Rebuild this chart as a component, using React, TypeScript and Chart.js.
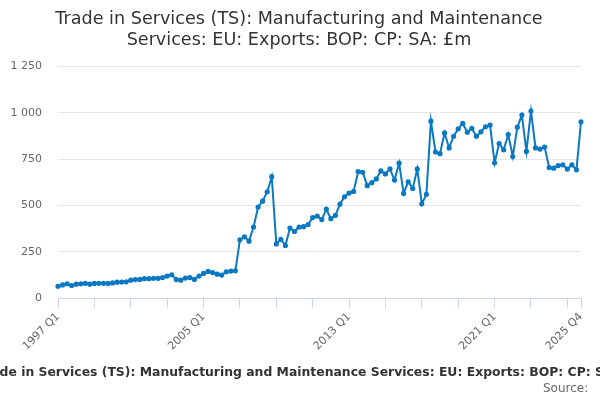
import { useRef, useEffect } from 'react';
import { Chart, registerables, type ChartConfiguration } from 'chart.js';

Chart.register(...registerables);

const titleLines = [
    'Trade in Services (TS): Manufacturing and Maintenance',
    'Services: EU: Exports: BOP: CP: SA: £m',
];
const footTitle = 'Trade in Services (TS): Manufacturing and Maintenance Services: EU: Exports: BOP: CP: SA: £m';
const sourceText = 'Source:';

const firstYear = 1997;
const lastYear = 2025;
const quarters = ['Q1', 'Q2', 'Q3', 'Q4'];

// £m, quarterly
const values1997to2004 = [
    65, 72, 78, 69, 76, 78, 81, 76, 80, 81, 81, 80, 83, 87, 88, 89,
    98, 101, 102, 106, 106, 108, 108, 112, 120, 127, 101, 98, 109, 112, 102, 120,
];
const values2005to2012 = [
    134, 145, 139, 130, 125, 143, 147, 148, 315, 331, 308, 384, 492, 523, 574, 655,
    293, 318, 284, 378, 360, 384, 386, 397, 435, 443, 424, 480, 429, 447, 507, 547,
];
const values2013to2020 = [
    567, 576, 683, 679, 607, 623, 643, 686, 670, 697, 637, 728, 565, 628, 592, 697,
    509, 560, 954, 788, 779, 891, 810, 873, 913, 942, 895, 915, 873, 897, 924, 933,
];
const values2021to2025 = [
    730, 834, 800, 882, 764, 922, 987, 791, 1009, 810, 804, 815, 704, 701, 715, 719,
    696, 719, 692, 951,
];

const yTicks = [0, 250, 500, 750, 1000, 1250];

const labels: string[] = [];
for (let y = firstYear; y <= lastYear; y++) {
    for (const q of quarters) labels.push(`${y} ${q}`);
}
const values = [...values1997to2004, ...values2005to2012, ...values2013to2020, ...values2021to2025];

const lineColor = '#0a78c2';
const fontFamily = '"DejaVu Sans", Verdana, sans-serif';

// footer: the long bold caption is wider than the canvas and gets cut at both sides
const footerPlugin = {
    id: 'footerNote',
    afterDraw(chart: Chart) {
        const ctx = chart.ctx;
        ctx.save();
        ctx.textBaseline = 'alphabetic';
        ctx.font = `bold 12.4px ${fontFamily}`;
        ctx.fillStyle = '#333333';
        ctx.textAlign = 'left';
        ctx.fillText(footTitle, -22, 376);
        ctx.font = `12px ${fontFamily}`;
        ctx.fillStyle = '#666666';
        ctx.fillText(sourceText, 543, 392);
        ctx.restore();
    },
};

export default function App() {
    const chartRef = useRef<HTMLCanvasElement>(null);

    useEffect(() => {
        document.body.style.margin = '0';
        if (!chartRef.current) return;
        const last = labels.length - 1;

        const config = {
            type: 'line',
            data: {
                labels,
                datasets: [{
                    data: values,
                    borderColor: lineColor,
                    backgroundColor: lineColor,
                    borderWidth: 2,
                    pointRadius: 1.6,
                    pointHoverRadius: 3,
                    tension: 0,
                }],
            },
            options: {
                responsive: true,
                maintainAspectRatio: false,
                animation: false,
                layout: { padding: { left: 8, right: 10, top: 0, bottom: 45 } },
                plugins: {
                    legend: { display: false },
                    tooltip: { enabled: false },
                    title: {
                        display: true,
                        text: titleLines,
                        color: '#333333',
                        font: { family: fontFamily, size: 17.6, weight: 'normal', lineHeight: 1.2 },
                        padding: { top: 9, bottom: 15 },
                    },
                },
                scales: {
                    x: {
                        offset: false,
                        border: { display: true, color: '#ccd6eb', width: 1 },
                        grid: {
                            drawOnChartArea: false,
                            drawTicks: true,
                            tickLength: 10,
                            color: (c: any) => (c.index % 8 === 0 || c.index === last ? '#ccd6eb' : 'transparent'),
                        },
                        ticks: {
                            autoSkip: false,
                            maxRotation: 45,
                            minRotation: 45,
                            color: '#666666',
                            font: { family: fontFamily, size: 11 },
                            padding: 2,
                            callback: (_v: any, i: number) => (i % 32 === 0 || i === last ? labels[i] : ''),
                        },
                        afterFit: (axis: any) => {
                            axis.paddingLeft = 0;
                            axis.paddingRight = 0;
                        },
                    },
                    y: {
                        min: 0,
                        max: 1250,
                        afterBuildTicks: (axis: any) => {
                            axis.ticks = yTicks.map((v) => ({ value: v }));
                        },
                        afterFit: (axis: any) => {
                            axis.width = 50;
                        },
                        border: { display: false },
                        grid: { color: '#e6e6e6', drawTicks: false },
                        ticks: {
                            color: '#666666',
                            font: { family: fontFamily, size: 11 },
                            padding: 16,
                            callback: (v: any) => String(v).replace(/\B(?=(\d{3})+(?!\d))/g, ' '),
                        },
                    },
                    // empty spacer on the right so the plot ends where the reference does
                    spacer: {
                        type: 'linear',
                        position: 'right',
                        display: true,
                        border: { display: false },
                        grid: { display: false, drawTicks: false },
                        ticks: { display: false },
                        afterFit: (axis: any) => {
                            axis.width = 9;
                        },
                    },
                },
            },
            plugins: [footerPlugin],
        };

        const chart = new Chart(chartRef.current, config as ChartConfiguration);
        return () => {
            chart.destroy();
        };
    }, []);

    return (
        <div style={{ position: 'fixed', left: 0, top: 0, width: 600, height: 400 }}>
            <canvas ref={chartRef}></canvas>
        </div>
    );
}
